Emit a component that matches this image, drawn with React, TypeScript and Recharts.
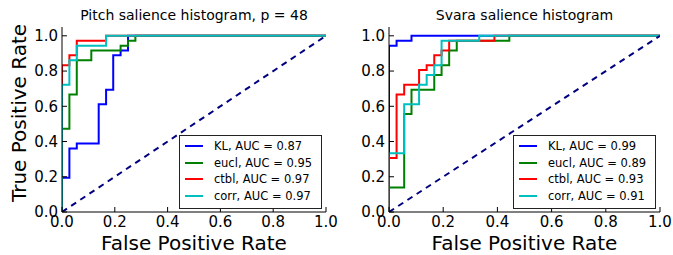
import React from 'react';
import { LineChart, Line, XAxis, YAxis } from 'recharts';

// series names and colours (matplotlib classic b, g, r, c)
const names = ['KL', 'eucl', 'ctbl', 'corr'];
const colors = ['#0000ff', '#008000', '#ff0000', '#00bfbf'];

// left panel: pitch salience histogram, p = 48
const pitchAuc = [0.87, 0.95, 0.97, 0.97];
const pitchFprKL = [0, 0, 0.028, 0.056, 0.139, 0.167, 0.194, 0.222, 0.25, 1];
const pitchTprKL = [0, 0.194, 0.361, 0.389, 0.611, 0.694, 0.889, 0.917, 1, 1];
const pitchFprEucl = [0, 0, 0.028, 0.056, 0.111, 0.222, 0.25, 0.278, 1];
const pitchTprEucl = [0, 0.472, 0.667, 0.861, 0.917, 0.944, 0.972, 1, 1];
const pitchFprCtbl = [0, 0, 0.028, 0.056, 0.167, 1];
const pitchTprCtbl = [0, 0.833, 0.889, 0.972, 1, 1];
const pitchFprCorr = [0, 0, 0.028, 0.056, 0.167, 1];
const pitchTprCorr = [0, 0.722, 0.861, 0.944, 1, 1];

// right panel: svara salience histogram
const svaraAuc = [0.99, 0.89, 0.93, 0.91];
const svaraFprKL = [0, 0, 0.028, 0.083, 1];
const svaraTprKL = [0, 0.944, 0.972, 1, 1];
const svaraFprEucl = [0, 0, 0.056, 0.083, 0.167, 0.194, 0.222, 0.25, 0.444, 1];
const svaraTprEucl = [0, 0.139, 0.556, 0.694, 0.778, 0.833, 0.917, 0.972, 1, 1];
const svaraFprCtbl = [0, 0, 0.028, 0.056, 0.111, 0.139, 0.167, 0.194, 0.222, 0.389, 1];
const svaraTprCtbl = [0, 0.306, 0.667, 0.722, 0.806, 0.833, 0.889, 0.917, 0.972, 1, 1];
const svaraFprCorr = [0, 0, 0.056, 0.111, 0.139, 0.167, 0.194, 0.333, 1];
const svaraTprCorr = [0, 0.333, 0.611, 0.722, 0.778, 0.833, 0.972, 1, 1];

const chance = [0, 1];
const ticks = [0, 0.2, 0.4, 0.6, 0.8, 1.0];

const zip = (xs: number[], ys: number[]) => xs.map((x, i) => ({ x, y: ys[i] }));

const pitchCurves = [
  zip(pitchFprKL, pitchTprKL),
  zip(pitchFprEucl, pitchTprEucl),
  zip(pitchFprCtbl, pitchTprCtbl),
  zip(pitchFprCorr, pitchTprCorr),
];
const svaraCurves = [
  zip(svaraFprKL, svaraTprKL),
  zip(svaraFprEucl, svaraTprEucl),
  zip(svaraFprCtbl, svaraTprCtbl),
  zip(svaraFprCorr, svaraTprCorr),
];
const diagonal = zip(chance, chance);

const FONT = '"DejaVu Sans", sans-serif';
const PLOT_TOP = 27;
const PLOT_BOTTOM = 212;
const H = 255;

type PanelProps = {
  left: number;
  width: number;
  plotLeft: number;
  plotRight: number;
  title: string;
  curves: { x: number; y: number }[][];
  aucs: number[];
};

const RocPanel = ({ left, width, plotLeft, plotRight, title, curves, aucs }: PanelProps) => {
  const yAxisW = 30;
  const tickStyle = { fontSize: 15, fill: '#000', fontFamily: FONT };
  return (
    <div style={{ position: 'absolute', left, top: 0, width, height: H }}>
      <LineChart
        width={width}
        height={H}
        margin={{ top: PLOT_TOP, right: width - plotRight, bottom: H - PLOT_BOTTOM - 20, left: plotLeft - yAxisW }}
      >
        <XAxis
          dataKey="x"
          type="number"
          domain={[0, 1]}
          ticks={ticks}
          tickFormatter={(v: number) => v.toFixed(1)}
          height={20}
          tickSize={-5}
          tickMargin={9}
          tick={tickStyle}
          axisLine={{ stroke: '#000' }}
          tickLine={{ stroke: '#000' }}
          allowDataOverflow
          label={{ value: 'False Positive Rate', position: 'bottom', offset: 4, fontSize: 20, fill: '#000', fontFamily: FONT }}
        />
        <XAxis
          xAxisId="top"
          orientation="top"
          dataKey="x"
          type="number"
          domain={[0, 1]}
          ticks={ticks}
          height={0}
          tickSize={-5}
          tick={false}
          axisLine={{ stroke: '#000' }}
          tickLine={{ stroke: '#000' }}
        />
        <YAxis
          type="number"
          domain={[0, 1.05]}
          ticks={ticks}
          tickFormatter={(v: number) => v.toFixed(1)}
          width={yAxisW}
          tickSize={-5}
          tickMargin={9}
          tick={tickStyle}
          axisLine={{ stroke: '#000' }}
          tickLine={{ stroke: '#000' }}
          allowDataOverflow
        />
        <YAxis
          yAxisId="right"
          orientation="right"
          type="number"
          domain={[0, 1.05]}
          ticks={ticks}
          width={0}
          tickSize={-5}
          tick={false}
          axisLine={{ stroke: '#000' }}
          tickLine={{ stroke: '#000' }}
        />
        {curves.map((data, i) => (
          <Line
            key={names[i]}
            data={data}
            dataKey="y"
            type="stepAfter"
            stroke={colors[i]}
            strokeWidth={2}
            dot={false}
            isAnimationActive={false}
          />
        ))}
        <Line
          data={diagonal}
          dataKey="y"
          type="linear"
          stroke="#000080"
          strokeWidth={2}
          strokeDasharray="6 5"
          dot={false}
          isAnimationActive={false}
        />
      </LineChart>
      <div
        style={{
          position: 'absolute',
          left: plotLeft,
          width: plotRight - plotLeft,
          top: 7,
          textAlign: 'center',
          fontFamily: FONT,
          fontSize: 14,
          lineHeight: '16px',
          color: '#000',
        }}
      >
        {title}
      </div>
      <div
        style={{
          position: 'absolute',
          left: plotRight - 4 - 143,
          width: 143,
          top: 135,
          boxSizing: 'border-box',
          border: '1px solid #222',
          background: '#fff',
          padding: '2px 0 4px 5px',
          fontFamily: FONT,
          fontSize: 11.5,
          color: '#000',
        }}
      >
        {names.map((n, i) => (
          <div key={n} style={{ display: 'flex', alignItems: 'center', height: 16.5 }}>
            <div style={{ width: 18, height: 2, background: colors[i], marginRight: 11 }} />
            <span>{`${n}, AUC = ${aucs[i].toFixed(2)}`}</span>
          </div>
        ))}
      </div>
    </div>
  );
};

export default function App() {
  return (
    <div style={{ position: 'absolute', left: 0, top: 0, width: 673, height: H, background: '#fff', overflow: 'hidden' }}>
      <RocPanel
        left={0}
        width={340}
        plotLeft={62}
        plotRight={326}
        title="Pitch salience histogram, p = 48"
        curves={pitchCurves}
        aucs={pitchAuc}
      />
      <RocPanel
        left={340}
        width={333}
        plotLeft={49}
        plotRight={320}
        title="Svara salience histogram"
        curves={svaraCurves}
        aucs={svaraAuc}
      />
      <svg width={40} height={H} style={{ position: 'absolute', left: 0, top: 0 }}>
        <text
          transform="rotate(-90)"
          x={-113}
          y={26}
          textAnchor="middle"
          fontSize={20}
          fontFamily={FONT}
          fill="#000"
        >
          True Positive Rate
        </text>
      </svg>
    </div>
  );
}
